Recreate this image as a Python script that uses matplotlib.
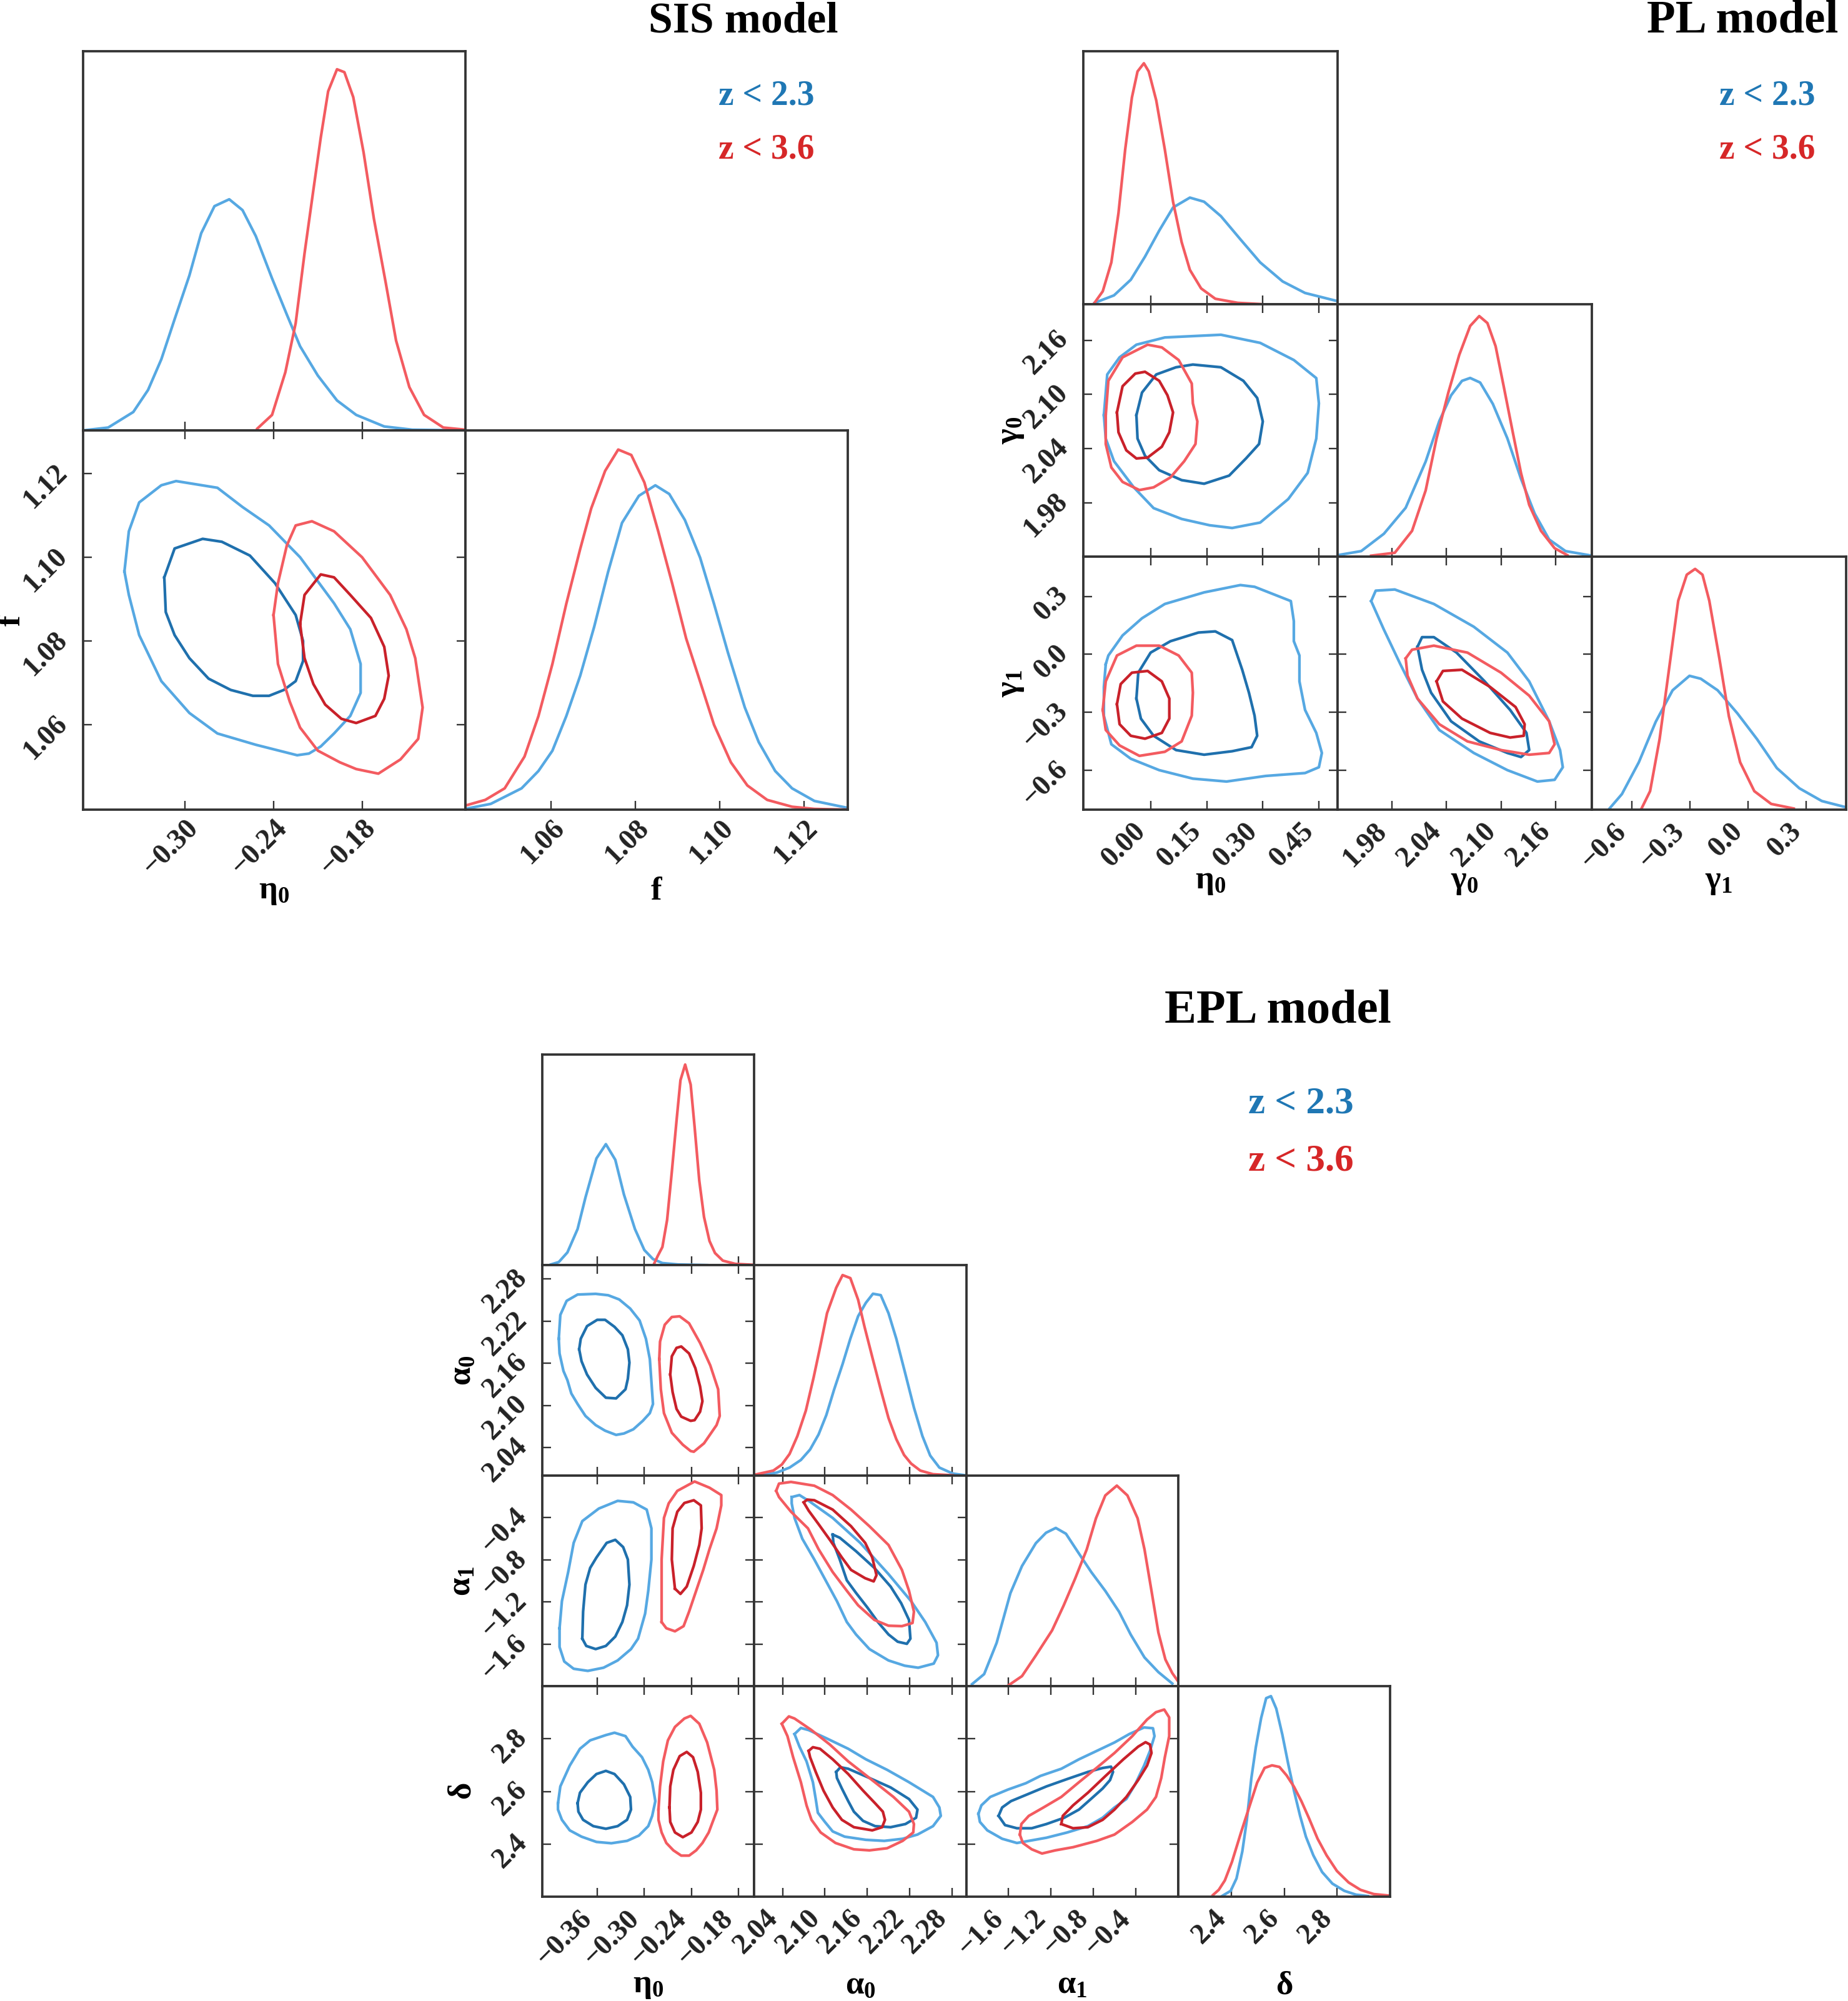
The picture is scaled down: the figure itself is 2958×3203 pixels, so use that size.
import matplotlib
matplotlib.use("Agg")
import matplotlib.pyplot as plt

# canvas size in pixels (dpi 100)
W, H = 2958, 3203

plt.rcParams['font.family'] = ['Liberation Serif', 'DejaVu Serif']
plt.rcParams['font.weight'] = 'bold'
plt.rcParams['mathtext.fontset'] = 'custom'
plt.rcParams['mathtext.rm'] = 'Liberation Serif:bold'
plt.rcParams['mathtext.bf'] = 'Liberation Serif:bold'
plt.rcParams['mathtext.it'] = 'Liberation Serif:bold:italic'
plt.rcParams['mathtext.default'] = 'bf'

LIGHT_BLUE = '#56a8e2'
DARK_BLUE = '#1f70ad'
LIGHT_RED = '#f35b60'
DARK_RED = '#c9212a'
TXT_BLUE = '#1f77b4'
TXT_RED = '#d62728'
EDGE = '#333333'
LW = 3.1

legend_labels = ['z < 2.3', 'z < 3.6']

# ---------------- SIS model ----------------
sis_labels = [r'$\eta_0$', r'$f$']
sis_lims = [(-0.369, -0.110), (1.0397, 1.1303)]
sis_ticks = [[-0.30, -0.24, -0.18], [1.06, 1.08, 1.10, 1.12]]
sis_fmt = ['{:.2f}', '{:.2f}']

sis_eta0_blue = [(-0.369, 0.0), (-0.352, 0.008), (-0.335, 0.051), (-0.325, 0.112), (-0.316, 0.197),
                 (-0.307, 0.308), (-0.297, 0.429), (-0.289, 0.546), (-0.280, 0.621), (-0.270, 0.640),
                 (-0.261, 0.610), (-0.252, 0.538), (-0.241, 0.421), (-0.231, 0.321), (-0.222, 0.233),
                 (-0.210, 0.152), (-0.197, 0.083), (-0.184, 0.043), (-0.165, 0.011), (-0.146, 0.002),
                 (-0.110, 0.0)]
sis_eta0_red = [(-0.251, 0.005), (-0.241, 0.043), (-0.232, 0.161), (-0.225, 0.297), (-0.219, 0.490),
                (-0.213, 0.666), (-0.208, 0.811), (-0.203, 0.939), (-0.197, 1.0), (-0.192, 0.992),
                (-0.186, 0.923), (-0.179, 0.770), (-0.172, 0.586), (-0.164, 0.409), (-0.157, 0.249),
                (-0.148, 0.120), (-0.138, 0.043), (-0.125, 0.008), (-0.110, 0.002)]
sis_f_blue = [(1.0396, 0.002), (1.0457, 0.016), (1.0530, 0.059), (1.0570, 0.107), (1.0603, 0.163),
              (1.0636, 0.259), (1.0669, 0.371), (1.0702, 0.506), (1.0735, 0.658), (1.0768, 0.794),
              (1.0808, 0.869), (1.0847, 0.898), (1.0880, 0.874), (1.0917, 0.802), (1.0953, 0.698),
              (1.0986, 0.570), (1.1019, 0.435), (1.1059, 0.283), (1.1092, 0.187), (1.1131, 0.107),
              (1.1171, 0.059), (1.1224, 0.024), (1.1302, 0.005)]
sis_f_red = [(1.0396, 0.011), (1.0444, 0.027), (1.0490, 0.059), (1.0537, 0.147), (1.0570, 0.259),
             (1.0603, 0.403), (1.0636, 0.570), (1.0669, 0.722), (1.0695, 0.834), (1.0728, 0.938),
             (1.0759, 0.997), (1.0790, 0.982), (1.0821, 0.906), (1.0854, 0.770), (1.0887, 0.626),
             (1.0920, 0.474), (1.0953, 0.355), (1.0986, 0.235), (1.1026, 0.131), (1.1065, 0.067),
             (1.1112, 0.027), (1.1171, 0.008), (1.1224, 0.002), (1.1302, 0.0)]

sis_eta0_f_blue95 = [(-0.341, 1.0966), (-0.338, 1.1062), (-0.331, 1.1131), (-0.316, 1.1172), (-0.306, 1.1182),
                     (-0.278, 1.1166), (-0.261, 1.1120), (-0.243, 1.1076), (-0.222, 1.1000), (-0.199, 1.0890),
                     (-0.188, 1.0828), (-0.181, 1.0745), (-0.181, 1.0676), (-0.188, 1.0621), (-0.199, 1.0579),
                     (-0.208, 1.0548), (-0.216, 1.0531), (-0.224, 1.0527), (-0.252, 1.0552), (-0.278, 1.0579),
                     (-0.297, 1.0628), (-0.316, 1.0704), (-0.331, 1.0814), (-0.338, 1.0910)]
sis_eta0_f_blue68 = [(-0.314, 1.0952), (-0.307, 1.1021), (-0.288, 1.1044), (-0.275, 1.1037), (-0.256, 1.1004),
                     (-0.239, 1.0938), (-0.225, 1.0862), (-0.220, 1.0800), (-0.220, 1.0752), (-0.225, 1.0704),
                     (-0.233, 1.0683), (-0.243, 1.0669), (-0.254, 1.0669), (-0.269, 1.0683), (-0.284, 1.0710),
                     (-0.297, 1.0759), (-0.307, 1.0814), (-0.313, 1.0869)]
sis_eta0_f_red95 = [(-0.240, 1.0862), (-0.237, 1.0938), (-0.231, 1.1028), (-0.225, 1.1076), (-0.214, 1.1086),
                    (-0.199, 1.1062), (-0.180, 1.1000), (-0.161, 1.0910), (-0.150, 1.0828), (-0.144, 1.0759),
                    (-0.139, 1.0641), (-0.142, 1.0566), (-0.154, 1.0517), (-0.169, 1.0483), (-0.184, 1.0494),
                    (-0.195, 1.0510), (-0.210, 1.0538), (-0.222, 1.0593), (-0.229, 1.0655), (-0.237, 1.0745)]
sis_eta0_f_red68 = [(-0.222, 1.0841), (-0.219, 1.0910), (-0.208, 1.0959), (-0.199, 1.0952), (-0.188, 1.0910),
                    (-0.174, 1.0855), (-0.165, 1.0786), (-0.162, 1.0717), (-0.165, 1.0662), (-0.171, 1.0621),
                    (-0.184, 1.0604), (-0.194, 1.0614), (-0.205, 1.0648), (-0.213, 1.0697), (-0.219, 1.0759)]

# ---------------- PL model ----------------
pl_labels = [r'$\eta_0$', r'$\gamma_0$', r'$\gamma_1$']
pl_lims = [(-0.18, 0.50), (1.92, 2.20), (-0.805, 0.505)]
pl_ticks = [[0.00, 0.15, 0.30, 0.45], [1.98, 2.04, 2.10, 2.16], [-0.6, -0.3, 0.0, 0.3]]
pl_fmt = ['{:.2f}', '{:.2f}', '{:.1f}']

pl_eta0_blue = [(-0.150, 0.005), (-0.098, 0.036), (-0.053, 0.101), (-0.015, 0.197), (0.023, 0.305),
                (0.060, 0.401), (0.105, 0.442), (0.143, 0.425), (0.188, 0.365), (0.240, 0.269),
                (0.293, 0.173), (0.353, 0.094), (0.413, 0.046), (0.500, 0.012)]
pl_eta0_red = [(-0.150, 0.005), (-0.128, 0.053), (-0.105, 0.173), (-0.086, 0.377), (-0.068, 0.642),
               (-0.050, 0.858), (-0.035, 0.966), (-0.018, 1.0), (-0.005, 0.966), (0.015, 0.846),
               (0.038, 0.642), (0.060, 0.425), (0.083, 0.257), (0.105, 0.142), (0.135, 0.065),
               (0.173, 0.022), (0.233, 0.005), (0.293, 0.0)]
pl_gamma0_blue = [(1.920, 0.007), (1.946, 0.024), (1.971, 0.096), (1.995, 0.204), (2.017, 0.396),
                  (2.032, 0.564), (2.045, 0.671), (2.057, 0.731), (2.066, 0.743), (2.077, 0.724),
                  (2.091, 0.635), (2.107, 0.492), (2.122, 0.324), (2.137, 0.180), (2.153, 0.072),
                  (2.171, 0.024), (2.200, 0.005)]
pl_gamma0_red = [(1.957, 0.005), (1.983, 0.017), (2.002, 0.108), (2.017, 0.276), (2.029, 0.492),
                 (2.042, 0.683), (2.054, 0.839), (2.066, 0.959), (2.076, 1.0), (2.085, 0.971),
                 (2.094, 0.875), (2.103, 0.707), (2.113, 0.516), (2.122, 0.348), (2.131, 0.216),
                 (2.144, 0.108), (2.159, 0.036), (2.173, 0.007)]
pl_gamma1_blue = [(-0.714, 0.005), (-0.650, 0.065), (-0.563, 0.197), (-0.476, 0.365), (-0.389, 0.496),
                  (-0.302, 0.556), (-0.244, 0.544), (-0.157, 0.496), (-0.055, 0.400), (0.046, 0.293),
                  (0.148, 0.173), (0.264, 0.089), (0.380, 0.036), (0.505, 0.010)]
pl_gamma1_red = [(-0.549, 0.005), (-0.505, 0.077), (-0.456, 0.293), (-0.404, 0.604), (-0.360, 0.868),
                 (-0.316, 0.976), (-0.273, 1.0), (-0.235, 0.976), (-0.200, 0.868), (-0.148, 0.628),
                 (-0.099, 0.388), (-0.041, 0.197), (0.032, 0.077), (0.119, 0.024), (0.235, 0.005)]

pl_eta0_gamma0_blue95 = [(-0.125, 2.077), (-0.116, 2.122), (-0.083, 2.141), (-0.038, 2.155), (0.038, 2.163),
                         (0.188, 2.166), (0.293, 2.157), (0.383, 2.138), (0.443, 2.118), (0.450, 2.090),
                         (0.443, 2.051), (0.420, 2.013), (0.368, 1.984), (0.293, 1.958), (0.218, 1.952),
                         (0.158, 1.955), (0.083, 1.962), (0.008, 1.974), (-0.045, 1.997), (-0.098, 2.026),
                         (-0.120, 2.051)]
pl_eta0_gamma0_blue68 = [(-0.038, 2.077), (-0.023, 2.102), (0.015, 2.122), (0.068, 2.130), (0.113, 2.133),
                         (0.188, 2.130), (0.248, 2.115), (0.285, 2.096), (0.300, 2.070), (0.290, 2.045),
                         (0.255, 2.029), (0.210, 2.010), (0.143, 2.001), (0.083, 2.005), (0.023, 2.016),
                         (-0.015, 2.032), (-0.035, 2.051)]
pl_eta0_gamma0_red95 = [(-0.120, 2.077), (-0.113, 2.115), (-0.075, 2.141), (-0.008, 2.155), (0.030, 2.152),
                        (0.075, 2.138), (0.110, 2.112), (0.113, 2.090), (0.125, 2.070), (0.120, 2.045),
                        (0.090, 2.026), (0.053, 2.008), (0.008, 1.997), (-0.030, 1.994), (-0.075, 2.003),
                        (-0.105, 2.019), (-0.120, 2.045)]
pl_eta0_gamma0_red68 = [(-0.090, 2.080), (-0.075, 2.109), (-0.041, 2.123), (-0.015, 2.125), (0.023, 2.115),
                        (0.045, 2.099), (0.060, 2.080), (0.050, 2.058), (0.030, 2.042), (-0.008, 2.030),
                        (-0.038, 2.029), (-0.065, 2.038), (-0.086, 2.058)]

pl_eta0_gamma1_blue95 = [(-0.120, -0.051), (-0.113, -0.006), (-0.075, 0.098), (-0.023, 0.187), (0.038, 0.261),
                         (0.143, 0.321), (0.240, 0.359), (0.278, 0.350), (0.375, 0.276), (0.383, 0.172),
                         (0.383, 0.068), (0.398, -0.006), (0.398, -0.140), (0.413, -0.288), (0.443, -0.407),
                         (0.458, -0.511), (0.450, -0.585), (0.413, -0.615), (0.308, -0.630), (0.203, -0.659),
                         (0.113, -0.644), (0.023, -0.600), (-0.053, -0.541), (-0.105, -0.466), (-0.125, -0.318),
                         (-0.125, -0.169)]
pl_eta0_gamma1_blue68 = [(-0.038, -0.229), (-0.033, -0.095), (0.000, 0.009), (0.053, 0.068), (0.128, 0.113),
                         (0.173, 0.119), (0.218, 0.074), (0.245, -0.080), (0.263, -0.199), (0.278, -0.318),
                         (0.285, -0.422), (0.270, -0.481), (0.218, -0.502), (0.143, -0.520), (0.068, -0.496),
                         (0.008, -0.422), (-0.026, -0.333)]
pl_eta0_gamma1_red95 = [(-0.128, -0.288), (-0.120, -0.140), (-0.090, -0.006), (-0.038, 0.045), (0.023, 0.045),
                        (0.075, -0.006), (0.110, -0.095), (0.113, -0.199), (0.110, -0.318), (0.083, -0.451),
                        (0.038, -0.505), (-0.030, -0.526), (-0.083, -0.472), (-0.120, -0.392)]
pl_eta0_gamma1_red68 = [(-0.090, -0.258), (-0.080, -0.154), (-0.050, -0.095), (-0.008, -0.086), (0.030, -0.140),
                        (0.050, -0.229), (0.050, -0.333), (0.030, -0.407), (-0.015, -0.437), (-0.053, -0.422),
                        (-0.083, -0.362)]

pl_gamma0_gamma1_blue95 = [(1.957, 0.276), (1.962, 0.330), (1.983, 0.336), (2.026, 0.261), (2.070, 0.143),
                           (2.107, 0.009), (2.131, -0.140), (2.153, -0.347), (2.165, -0.496), (2.168, -0.585),
                           (2.159, -0.650), (2.140, -0.659), (2.107, -0.600), (2.070, -0.511), (2.032, -0.392),
                           (2.008, -0.229), (1.989, -0.050), (1.971, 0.128)]
pl_gamma0_gamma1_blue68 = [(2.008, 0.039), (2.013, 0.089), (2.026, 0.089), (2.051, 0.009), (2.082, -0.140),
                           (2.110, -0.288), (2.128, -0.407), (2.131, -0.496), (2.122, -0.532), (2.107, -0.511),
                           (2.076, -0.451), (2.045, -0.347), (2.023, -0.199), (2.013, -0.080)]
pl_gamma0_gamma1_red95 = [(1.995, -0.021), (2.002, 0.024), (2.026, 0.045), (2.063, 0.009), (2.100, -0.095),
                          (2.131, -0.214), (2.153, -0.347), (2.159, -0.466), (2.153, -0.511), (2.131, -0.520),
                          (2.100, -0.496), (2.063, -0.451), (2.032, -0.362), (2.008, -0.229), (1.997, -0.110)]
pl_gamma0_gamma1_red68 = [(2.029, -0.140), (2.036, -0.086), (2.057, -0.080), (2.088, -0.169), (2.116, -0.273),
                          (2.126, -0.362), (2.125, -0.422), (2.110, -0.431), (2.088, -0.407), (2.057, -0.333),
                          (2.036, -0.244)]

# ---------------- EPL model ----------------
epl_labels = [r'$\eta_0$', r'$\alpha_0$', r'$\alpha_1$', r'$\delta$']
epl_lims = [(-0.43, -0.16), (2.0, 2.3), (-2.0, 0.0), (2.2, 3.0)]
epl_ticks = [[-0.36, -0.30, -0.24, -0.18], [2.04, 2.10, 2.16, 2.22, 2.28],
             [-1.6, -1.2, -0.8, -0.4], [2.4, 2.6, 2.8]]
epl_fmt = ['{:.2f}', '{:.2f}', '{:.1f}', '{:.1f}']

epl_eta0_blue = [(-0.419, 0.003), (-0.409, 0.015), (-0.398, 0.063), (-0.385, 0.180), (-0.375, 0.337),
                 (-0.361, 0.532), (-0.349, 0.603), (-0.337, 0.525), (-0.326, 0.352), (-0.312, 0.180),
                 (-0.300, 0.075), (-0.289, 0.030), (-0.277, 0.010), (-0.257, 0.003), (-0.220, 0.0)]
epl_eta0_red = [(-0.288, 0.003), (-0.283, 0.045), (-0.277, 0.090), (-0.271, 0.225), (-0.265, 0.465),
                (-0.259, 0.720), (-0.254, 0.922), (-0.248, 1.0), (-0.241, 0.900), (-0.236, 0.690),
                (-0.230, 0.420), (-0.224, 0.240), (-0.217, 0.120), (-0.210, 0.060), (-0.200, 0.022),
                (-0.184, 0.006), (-0.162, 0.0015)]
epl_alpha0_blue = [(2.014, 0.004), (2.032, 0.015), (2.050, 0.040), (2.066, 0.078), (2.079, 0.130),
                   (2.091, 0.205), (2.102, 0.302), (2.113, 0.429), (2.125, 0.556), (2.136, 0.683),
                   (2.147, 0.795), (2.158, 0.862), (2.168, 0.907), (2.179, 0.900), (2.190, 0.810),
                   (2.201, 0.683), (2.213, 0.519), (2.226, 0.339), (2.238, 0.197), (2.249, 0.100),
                   (2.262, 0.040), (2.281, 0.010), (2.299, 0.0015)]
epl_alpha0_red = [(2.000, 0.004), (2.027, 0.025), (2.039, 0.055), (2.050, 0.108), (2.061, 0.197),
                  (2.073, 0.324), (2.084, 0.489), (2.093, 0.638), (2.103, 0.810), (2.116, 0.937),
                  (2.125, 1.0), (2.136, 0.985), (2.147, 0.877), (2.156, 0.743), (2.168, 0.578),
                  (2.179, 0.429), (2.190, 0.287), (2.201, 0.182), (2.212, 0.103), (2.222, 0.060),
                  (2.235, 0.025), (2.253, 0.007), (2.281, 0.0015)]
epl_alpha1_blue = [(-1.945, 0.010), (-1.831, 0.060), (-1.713, 0.216), (-1.583, 0.464), (-1.474, 0.599),
                   (-1.343, 0.713), (-1.247, 0.765), (-1.155, 0.789), (-1.059, 0.760), (-0.950, 0.672),
                   (-0.819, 0.568), (-0.688, 0.475), (-0.558, 0.371), (-0.448, 0.257), (-0.318, 0.143),
                   (-0.187, 0.070), (-0.056, 0.013)]
epl_alpha1_red = [(-1.604, 0.003), (-1.474, 0.050), (-1.343, 0.153), (-1.190, 0.278), (-1.081, 0.402),
                  (-0.972, 0.537), (-0.863, 0.682), (-0.776, 0.837), (-0.688, 0.951), (-0.579, 1.0),
                  (-0.479, 0.951), (-0.383, 0.837), (-0.318, 0.682), (-0.252, 0.475), (-0.187, 0.267),
                  (-0.121, 0.133), (-0.056, 0.065), (-0.008, 0.029)]
epl_delta_blue = [(2.364, 0.002), (2.398, 0.029), (2.420, 0.091), (2.442, 0.226), (2.459, 0.382),
                  (2.476, 0.590), (2.493, 0.746), (2.513, 0.891), (2.532, 0.990), (2.550, 1.0),
                  (2.570, 0.938), (2.593, 0.808), (2.615, 0.663), (2.637, 0.528), (2.660, 0.403),
                  (2.682, 0.299), (2.710, 0.206), (2.743, 0.123), (2.782, 0.065), (2.827, 0.029),
                  (2.871, 0.010), (2.916, 0.003)]
epl_delta_red = [(2.331, 0.008), (2.353, 0.034), (2.376, 0.081), (2.403, 0.174), (2.437, 0.320),
                 (2.470, 0.455), (2.498, 0.569), (2.526, 0.642), (2.554, 0.655), (2.582, 0.647),
                 (2.609, 0.605), (2.637, 0.548), (2.665, 0.476), (2.693, 0.393), (2.726, 0.289),
                 (2.760, 0.206), (2.799, 0.128), (2.843, 0.071), (2.888, 0.034), (2.938, 0.013),
                 (2.999, 0.005)]

epl_eta0_alpha0_blue95 = [(-0.409, 2.195), (-0.407, 2.229), (-0.399, 2.249), (-0.385, 2.258), (-0.362, 2.259),
                          (-0.346, 2.257), (-0.332, 2.251), (-0.318, 2.238), (-0.306, 2.221), (-0.298, 2.195),
                          (-0.293, 2.166), (-0.291, 2.134), (-0.289, 2.102), (-0.293, 2.089), (-0.302, 2.078),
                          (-0.314, 2.066), (-0.326, 2.060), (-0.336, 2.058), (-0.350, 2.064), (-0.362, 2.072),
                          (-0.375, 2.085), (-0.385, 2.102), (-0.393, 2.117), (-0.398, 2.136), (-0.403, 2.149),
                          (-0.408, 2.174)]
epl_eta0_alpha0_blue68 = [(-0.383, 2.180), (-0.381, 2.195), (-0.373, 2.213), (-0.360, 2.222), (-0.350, 2.222),
                          (-0.338, 2.212), (-0.328, 2.200), (-0.321, 2.180), (-0.319, 2.161), (-0.321, 2.138),
                          (-0.324, 2.123), (-0.336, 2.110), (-0.349, 2.111), (-0.362, 2.125), (-0.373, 2.144),
                          (-0.380, 2.163)]
epl_eta0_alpha0_red95 = [(-0.281, 2.166), (-0.280, 2.191), (-0.274, 2.215), (-0.265, 2.226), (-0.255, 2.227),
                         (-0.243, 2.217), (-0.229, 2.189), (-0.216, 2.157), (-0.206, 2.123), (-0.204, 2.085),
                         (-0.208, 2.072), (-0.224, 2.046), (-0.237, 2.034), (-0.241, 2.035), (-0.251, 2.044),
                         (-0.265, 2.061), (-0.275, 2.089), (-0.279, 2.123)]
epl_eta0_alpha0_red68 = [(-0.267, 2.144), (-0.265, 2.170), (-0.259, 2.182), (-0.253, 2.184), (-0.243, 2.174),
                         (-0.235, 2.153), (-0.229, 2.127), (-0.226, 2.106), (-0.229, 2.091), (-0.236, 2.079),
                         (-0.241, 2.078), (-0.253, 2.084), (-0.259, 2.095), (-0.264, 2.119)]

epl_eta0_alpha1_blue95 = [(-0.408, -1.450), (-0.405, -1.193), (-0.397, -0.916), (-0.390, -0.639), (-0.379, -0.432),
                          (-0.358, -0.313), (-0.334, -0.240), (-0.314, -0.254), (-0.297, -0.323), (-0.291, -0.501),
                          (-0.291, -0.797), (-0.295, -1.094), (-0.299, -1.311), (-0.308, -1.549), (-0.317, -1.648),
                          (-0.334, -1.756), (-0.352, -1.825), (-0.372, -1.855), (-0.390, -1.835), (-0.402, -1.766),
                          (-0.408, -1.628)]
epl_eta0_alpha1_blue68 = [(-0.379, -1.549), (-0.378, -1.292), (-0.375, -1.035), (-0.369, -0.877), (-0.361, -0.778),
                          (-0.348, -0.639), (-0.337, -0.610), (-0.327, -0.679), (-0.321, -0.797), (-0.319, -1.035),
                          (-0.322, -1.232), (-0.328, -1.391), (-0.337, -1.529), (-0.349, -1.618), (-0.362, -1.648),
                          (-0.374, -1.618)]
epl_eta0_alpha1_red95 = [(-0.278, -1.391), (-0.278, -0.797), (-0.275, -0.402), (-0.269, -0.264), (-0.258, -0.145),
                         (-0.236, -0.056), (-0.217, -0.115), (-0.202, -0.185), (-0.202, -0.283), (-0.208, -0.501),
                         (-0.217, -0.699), (-0.225, -0.896), (-0.234, -1.094), (-0.243, -1.292), (-0.250, -1.430),
                         (-0.261, -1.479), (-0.272, -1.450)]
epl_eta0_alpha1_red68 = [(-0.261, -1.074), (-0.265, -0.797), (-0.264, -0.501), (-0.258, -0.343), (-0.249, -0.260),
                         (-0.237, -0.234), (-0.228, -0.283), (-0.227, -0.501), (-0.230, -0.659), (-0.237, -0.857),
                         (-0.246, -1.054), (-0.254, -1.124)]

epl_alpha0_alpha1_blue95 = [(2.053, -0.204), (2.064, -0.185), (2.078, -0.244), (2.111, -0.402), (2.150, -0.639),
                            (2.190, -0.936), (2.222, -1.193), (2.242, -1.391), (2.258, -1.588), (2.260, -1.707),
                            (2.254, -1.786), (2.232, -1.825), (2.213, -1.806), (2.190, -1.756), (2.163, -1.648),
                            (2.144, -1.509), (2.131, -1.391), (2.117, -1.193), (2.101, -0.995), (2.085, -0.797),
                            (2.068, -0.600), (2.057, -0.402), (2.053, -0.264)]
epl_alpha0_alpha1_blue68 = [(2.111, -0.560), (2.121, -0.590), (2.144, -0.718), (2.170, -0.877), (2.193, -1.054),
                            (2.208, -1.213), (2.219, -1.371), (2.221, -1.549), (2.216, -1.598), (2.203, -1.578),
                            (2.190, -1.509), (2.175, -1.391), (2.160, -1.252), (2.144, -1.114), (2.131, -0.995),
                            (2.121, -0.797), (2.112, -0.639)]
epl_alpha0_alpha1_red95 = [(2.031, -0.145), (2.035, -0.076), (2.052, -0.060), (2.085, -0.096), (2.111, -0.185),
                           (2.137, -0.323), (2.163, -0.481), (2.190, -0.659), (2.209, -0.896), (2.219, -1.094),
                           (2.226, -1.292), (2.224, -1.400), (2.209, -1.430), (2.190, -1.426), (2.170, -1.371),
                           (2.147, -1.232), (2.131, -1.094), (2.111, -0.916), (2.091, -0.699), (2.076, -0.501),
                           (2.052, -0.343), (2.035, -0.204)]
epl_alpha0_alpha1_red68 = [(2.070, -0.254), (2.075, -0.228), (2.085, -0.234), (2.111, -0.323), (2.137, -0.481),
                           (2.157, -0.639), (2.167, -0.778), (2.173, -0.946), (2.169, -1.005), (2.157, -0.975),
                           (2.137, -0.896), (2.124, -0.778), (2.108, -0.620), (2.091, -0.461), (2.077, -0.333)]

epl_eta0_delta_blue95 = [(-0.410, 2.555), (-0.407, 2.619), (-0.395, 2.698), (-0.382, 2.762), (-0.369, 2.794),
                         (-0.349, 2.814), (-0.338, 2.823), (-0.324, 2.810), (-0.315, 2.770), (-0.303, 2.730),
                         (-0.295, 2.682), (-0.290, 2.635), (-0.286, 2.563), (-0.290, 2.507), (-0.295, 2.468),
                         (-0.307, 2.432), (-0.322, 2.412), (-0.342, 2.403), (-0.361, 2.408), (-0.380, 2.428),
                         (-0.395, 2.452), (-0.405, 2.492), (-0.410, 2.531)]
epl_eta0_delta_blue68 = [(-0.385, 2.555), (-0.382, 2.595), (-0.372, 2.635), (-0.361, 2.666), (-0.349, 2.678),
                         (-0.338, 2.666), (-0.326, 2.627), (-0.318, 2.579), (-0.317, 2.531), (-0.322, 2.492),
                         (-0.334, 2.468), (-0.349, 2.458), (-0.365, 2.468), (-0.378, 2.492), (-0.384, 2.523)]
epl_eta0_delta_red95 = [(-0.282, 2.531), (-0.280, 2.619), (-0.276, 2.714), (-0.270, 2.794), (-0.261, 2.845),
                        (-0.249, 2.877), (-0.241, 2.887), (-0.230, 2.857), (-0.220, 2.786), (-0.211, 2.682),
                        (-0.208, 2.603), (-0.207, 2.531), (-0.213, 2.484), (-0.218, 2.444), (-0.226, 2.404),
                        (-0.234, 2.376), (-0.243, 2.356), (-0.253, 2.356), (-0.263, 2.376), (-0.272, 2.404),
                        (-0.278, 2.444), (-0.282, 2.492)]
epl_eta0_delta_red68 = [(-0.268, 2.539), (-0.267, 2.619), (-0.263, 2.682), (-0.255, 2.734), (-0.246, 2.750),
                        (-0.238, 2.730), (-0.232, 2.674), (-0.228, 2.595), (-0.228, 2.531), (-0.232, 2.484),
                        (-0.240, 2.444), (-0.251, 2.426), (-0.261, 2.444), (-0.267, 2.484)]

epl_alpha0_delta_blue95 = [(2.057, 2.818), (2.066, 2.841), (2.077, 2.833), (2.102, 2.802), (2.133, 2.762),
                           (2.158, 2.722), (2.188, 2.682), (2.219, 2.635), (2.253, 2.579), (2.262, 2.539),
                           (2.264, 2.507), (2.253, 2.468), (2.231, 2.436), (2.210, 2.420), (2.184, 2.412),
                           (2.158, 2.416), (2.128, 2.428), (2.111, 2.448), (2.100, 2.484), (2.090, 2.519),
                           (2.087, 2.571), (2.083, 2.635), (2.074, 2.714), (2.064, 2.770)]
epl_alpha0_delta_blue68 = [(2.116, 2.674), (2.122, 2.692), (2.133, 2.686), (2.163, 2.651), (2.193, 2.615),
                           (2.219, 2.571), (2.231, 2.531), (2.229, 2.500), (2.214, 2.476), (2.193, 2.464),
                           (2.171, 2.468), (2.154, 2.488), (2.141, 2.523), (2.133, 2.563), (2.124, 2.611),
                           (2.117, 2.651)]
epl_alpha0_delta_red95 = [(2.039, 2.857), (2.049, 2.885), (2.057, 2.877), (2.081, 2.833), (2.107, 2.778),
                          (2.133, 2.714), (2.163, 2.651), (2.197, 2.579), (2.219, 2.523), (2.226, 2.476),
                          (2.225, 2.444), (2.210, 2.412), (2.188, 2.384), (2.163, 2.376), (2.141, 2.380),
                          (2.115, 2.404), (2.094, 2.444), (2.081, 2.492), (2.074, 2.547), (2.066, 2.635),
                          (2.055, 2.730), (2.047, 2.810)]
epl_alpha0_delta_red68 = [(2.077, 2.754), (2.083, 2.768), (2.093, 2.762), (2.111, 2.722), (2.133, 2.666),
                          (2.154, 2.603), (2.171, 2.555), (2.182, 2.523), (2.185, 2.492), (2.181, 2.464),
                          (2.167, 2.452), (2.141, 2.464), (2.124, 2.492), (2.111, 2.539), (2.098, 2.603),
                          (2.087, 2.674), (2.079, 2.730)]

epl_alpha1_delta_blue95 = [(-1.885, 2.515), (-1.857, 2.547), (-1.773, 2.579), (-1.606, 2.607), (-1.438, 2.631),
                           (-1.299, 2.659), (-1.103, 2.686), (-0.936, 2.722), (-0.768, 2.754), (-0.601, 2.786),
                           (-0.461, 2.818), (-0.322, 2.843), (-0.238, 2.840), (-0.224, 2.810), (-0.266, 2.754),
                           (-0.322, 2.698), (-0.406, 2.627), (-0.489, 2.571), (-0.601, 2.539), (-0.713, 2.500),
                           (-0.852, 2.468), (-1.047, 2.444), (-1.243, 2.424), (-1.410, 2.412), (-1.522, 2.404),
                           (-1.661, 2.420), (-1.801, 2.452), (-1.871, 2.484)]
epl_alpha1_delta_blue68 = [(-1.695, 2.507), (-1.661, 2.539), (-1.578, 2.563), (-1.410, 2.591), (-1.243, 2.619),
                           (-1.047, 2.647), (-0.852, 2.674), (-0.713, 2.689), (-0.634, 2.694), (-0.615, 2.674),
                           (-0.643, 2.643), (-0.713, 2.611), (-0.824, 2.571), (-0.936, 2.531), (-1.075, 2.500),
                           (-1.243, 2.476), (-1.382, 2.460), (-1.522, 2.460), (-1.634, 2.472)]
epl_alpha1_delta_red95 = [(-1.494, 2.436), (-1.480, 2.476), (-1.410, 2.507), (-1.271, 2.539), (-1.103, 2.579),
                          (-0.936, 2.635), (-0.768, 2.690), (-0.601, 2.746), (-0.433, 2.810), (-0.294, 2.873),
                          (-0.210, 2.901), (-0.132, 2.911), (-0.085, 2.881), (-0.085, 2.810), (-0.126, 2.730),
                          (-0.160, 2.651), (-0.210, 2.579), (-0.294, 2.531), (-0.433, 2.484), (-0.601, 2.436),
                          (-0.768, 2.412), (-0.992, 2.388), (-1.159, 2.376), (-1.285, 2.364), (-1.382, 2.380),
                          (-1.466, 2.404)]
epl_alpha1_delta_red68 = [(-1.103, 2.476), (-1.089, 2.507), (-0.992, 2.547), (-0.852, 2.595), (-0.685, 2.659),
                          (-0.517, 2.722), (-0.378, 2.770), (-0.308, 2.787), (-0.266, 2.778), (-0.252, 2.746),
                          (-0.294, 2.698), (-0.378, 2.643), (-0.489, 2.579), (-0.601, 2.531), (-0.713, 2.492),
                          (-0.852, 2.464), (-0.992, 2.460)]

# ---------------------------------------------------------------------------
fig = plt.figure(figsize=(W / 100, H / 100), dpi=100)


def fmt_ticks(ticks, f):
    return [f.format(t).replace('-', '\u2212') for t in ticks]


def corner(left, top, cw, ch, labels, lims, ticks, fmts, diag, pairs, xlab_off, ylab_off, xmode):
    n = len(labels)
    for i in range(n):
        for j in range(i + 1):
            ax = fig.add_axes([(left + j * cw) / W, 1 - (top + (i + 1) * ch) / H, cw / W, ch / H])
            for s in ax.spines.values():
                s.set_linewidth(2.7)
                s.set_color(EDGE)
            ax.tick_params(direction='in', length=10, width=1.7, color=EDGE, labelsize=33,
                           labelcolor='#222222')
            ax.tick_params(axis='x', pad=6 if xmode == 'anchor' else 10)
            ax.tick_params(axis='y', pad=17)
            ax.set_xlim(lims[j])
            ax.set_xticks(ticks[j])
            if i == j:
                blue, red = diag[i]
                ax.plot(*zip(*blue), color=LIGHT_BLUE, lw=LW)
                ax.plot(*zip(*red), color=LIGHT_RED, lw=LW)
                ax.set_ylim(0, 1.05)
                ax.set_yticks([])
                ax.tick_params(left=False, right=False, top=False, labelleft=False)
            else:
                b95, b68, r95, r68 = pairs[(i, j)]
                for pts, c in ((b95, LIGHT_BLUE), (b68, DARK_BLUE), (r95, LIGHT_RED), (r68, DARK_RED)):
                    xs, ys = zip(*(pts + pts[:1]))
                    ax.plot(xs, ys, color=c, lw=LW)
                ax.set_ylim(lims[i])
                ax.set_yticks(ticks[i])
                ax.tick_params(top=True, right=True)
                if j == 0:
                    ax.set_yticklabels(fmt_ticks(ticks[i], fmts[i]), rotation=45, ha='right',
                                       va='baseline', rotation_mode='anchor')
                    ax.set_ylabel(labels[i], fontsize=38, rotation=90, va='center', ha='center')
                    ax.yaxis.set_label_coords(-ylab_off / cw, 0.5)
                else:
                    ax.tick_params(labelleft=False)
            if i == n - 1:
                ax.set_xticklabels(fmt_ticks(ticks[j], fmts[j]), rotation=45, ha='right', va='top',
                                   rotation_mode=xmode)
                ax.set_xlabel(labels[j], fontsize=38, va='center')
                ax.xaxis.set_label_coords(0.5, -xlab_off / ch)
            else:
                ax.tick_params(labelbottom=False)


def legend(x, y1, y2, size):
    fig.text(x / W, 1 - y1 / H, legend_labels[0], color=TXT_BLUE, fontsize=size,
             ha='left', va='center', fontweight='bold')
    fig.text(x / W, 1 - y2 / H, legend_labels[1], color=TXT_RED, fontsize=size,
             ha='left', va='center', fontweight='bold')


# SIS
corner(133, 82, 612, 607, sis_labels, sis_lims, sis_ticks, sis_fmt,
       [(sis_eta0_blue, sis_eta0_red), (sis_f_blue, sis_f_red)],
       {(1, 0): (sis_eta0_f_blue95, sis_eta0_f_blue68, sis_eta0_f_red95, sis_eta0_f_red68)},
       131, 114, 'anchor')
fig.text(1342 / W, 1 - 34 / H, 'SIS model', fontsize=50, ha='right', va='center', fontweight='bold')
legend(1150, 153, 239, 40)

# PL
corner(1734, 82, 407, 404.7, pl_labels, pl_lims, pl_ticks, pl_fmt,
       [(pl_eta0_blue, pl_eta0_red), (pl_gamma0_blue, pl_gamma0_red), (pl_gamma1_blue, pl_gamma1_red)],
       {(1, 0): (pl_eta0_gamma0_blue95, pl_eta0_gamma0_blue68, pl_eta0_gamma0_red95, pl_eta0_gamma0_red68),
        (2, 0): (pl_eta0_gamma1_blue95, pl_eta0_gamma1_blue68, pl_eta0_gamma1_red95, pl_eta0_gamma1_red68),
        (2, 1): (pl_gamma0_gamma1_blue95, pl_gamma0_gamma1_blue68, pl_gamma0_gamma1_red95,
                 pl_gamma0_gamma1_red68)},
       115, 116, 'default')
fig.text(2942 / W, 1 - 33 / H, 'PL model', fontsize=54, ha='right', va='center', fontweight='bold')
legend(2752, 153, 239, 40)

# EPL
corner(868, 1688, 339.3, 337, epl_labels, epl_lims, epl_ticks, epl_fmt,
       [(epl_eta0_blue, epl_eta0_red), (epl_alpha0_blue, epl_alpha0_red),
        (epl_alpha1_blue, epl_alpha1_red), (epl_delta_blue, epl_delta_red)],
       {(1, 0): (epl_eta0_alpha0_blue95, epl_eta0_alpha0_blue68, epl_eta0_alpha0_red95, epl_eta0_alpha0_red68),
        (2, 0): (epl_eta0_alpha1_blue95, epl_eta0_alpha1_blue68, epl_eta0_alpha1_red95, epl_eta0_alpha1_red68),
        (2, 1): (epl_alpha0_alpha1_blue95, epl_alpha0_alpha1_blue68, epl_alpha0_alpha1_red95,
                 epl_alpha0_alpha1_red68),
        (3, 0): (epl_eta0_delta_blue95, epl_eta0_delta_blue68, epl_eta0_delta_red95, epl_eta0_delta_red68),
        (3, 1): (epl_alpha0_delta_blue95, epl_alpha0_delta_blue68, epl_alpha0_delta_red95,
                 epl_alpha0_delta_red68),
        (3, 2): (epl_alpha1_delta_blue95, epl_alpha1_delta_blue68, epl_alpha1_delta_red95,
                 epl_alpha1_delta_red68)},
       142, 128, 'default')
fig.text(2227 / W, 1 - 1618 / H, 'EPL model', fontsize=55, ha='right', va='center', fontweight='bold')
legend(1998, 1767, 1859, 44)

fig.savefig('out.png', dpi=100)
